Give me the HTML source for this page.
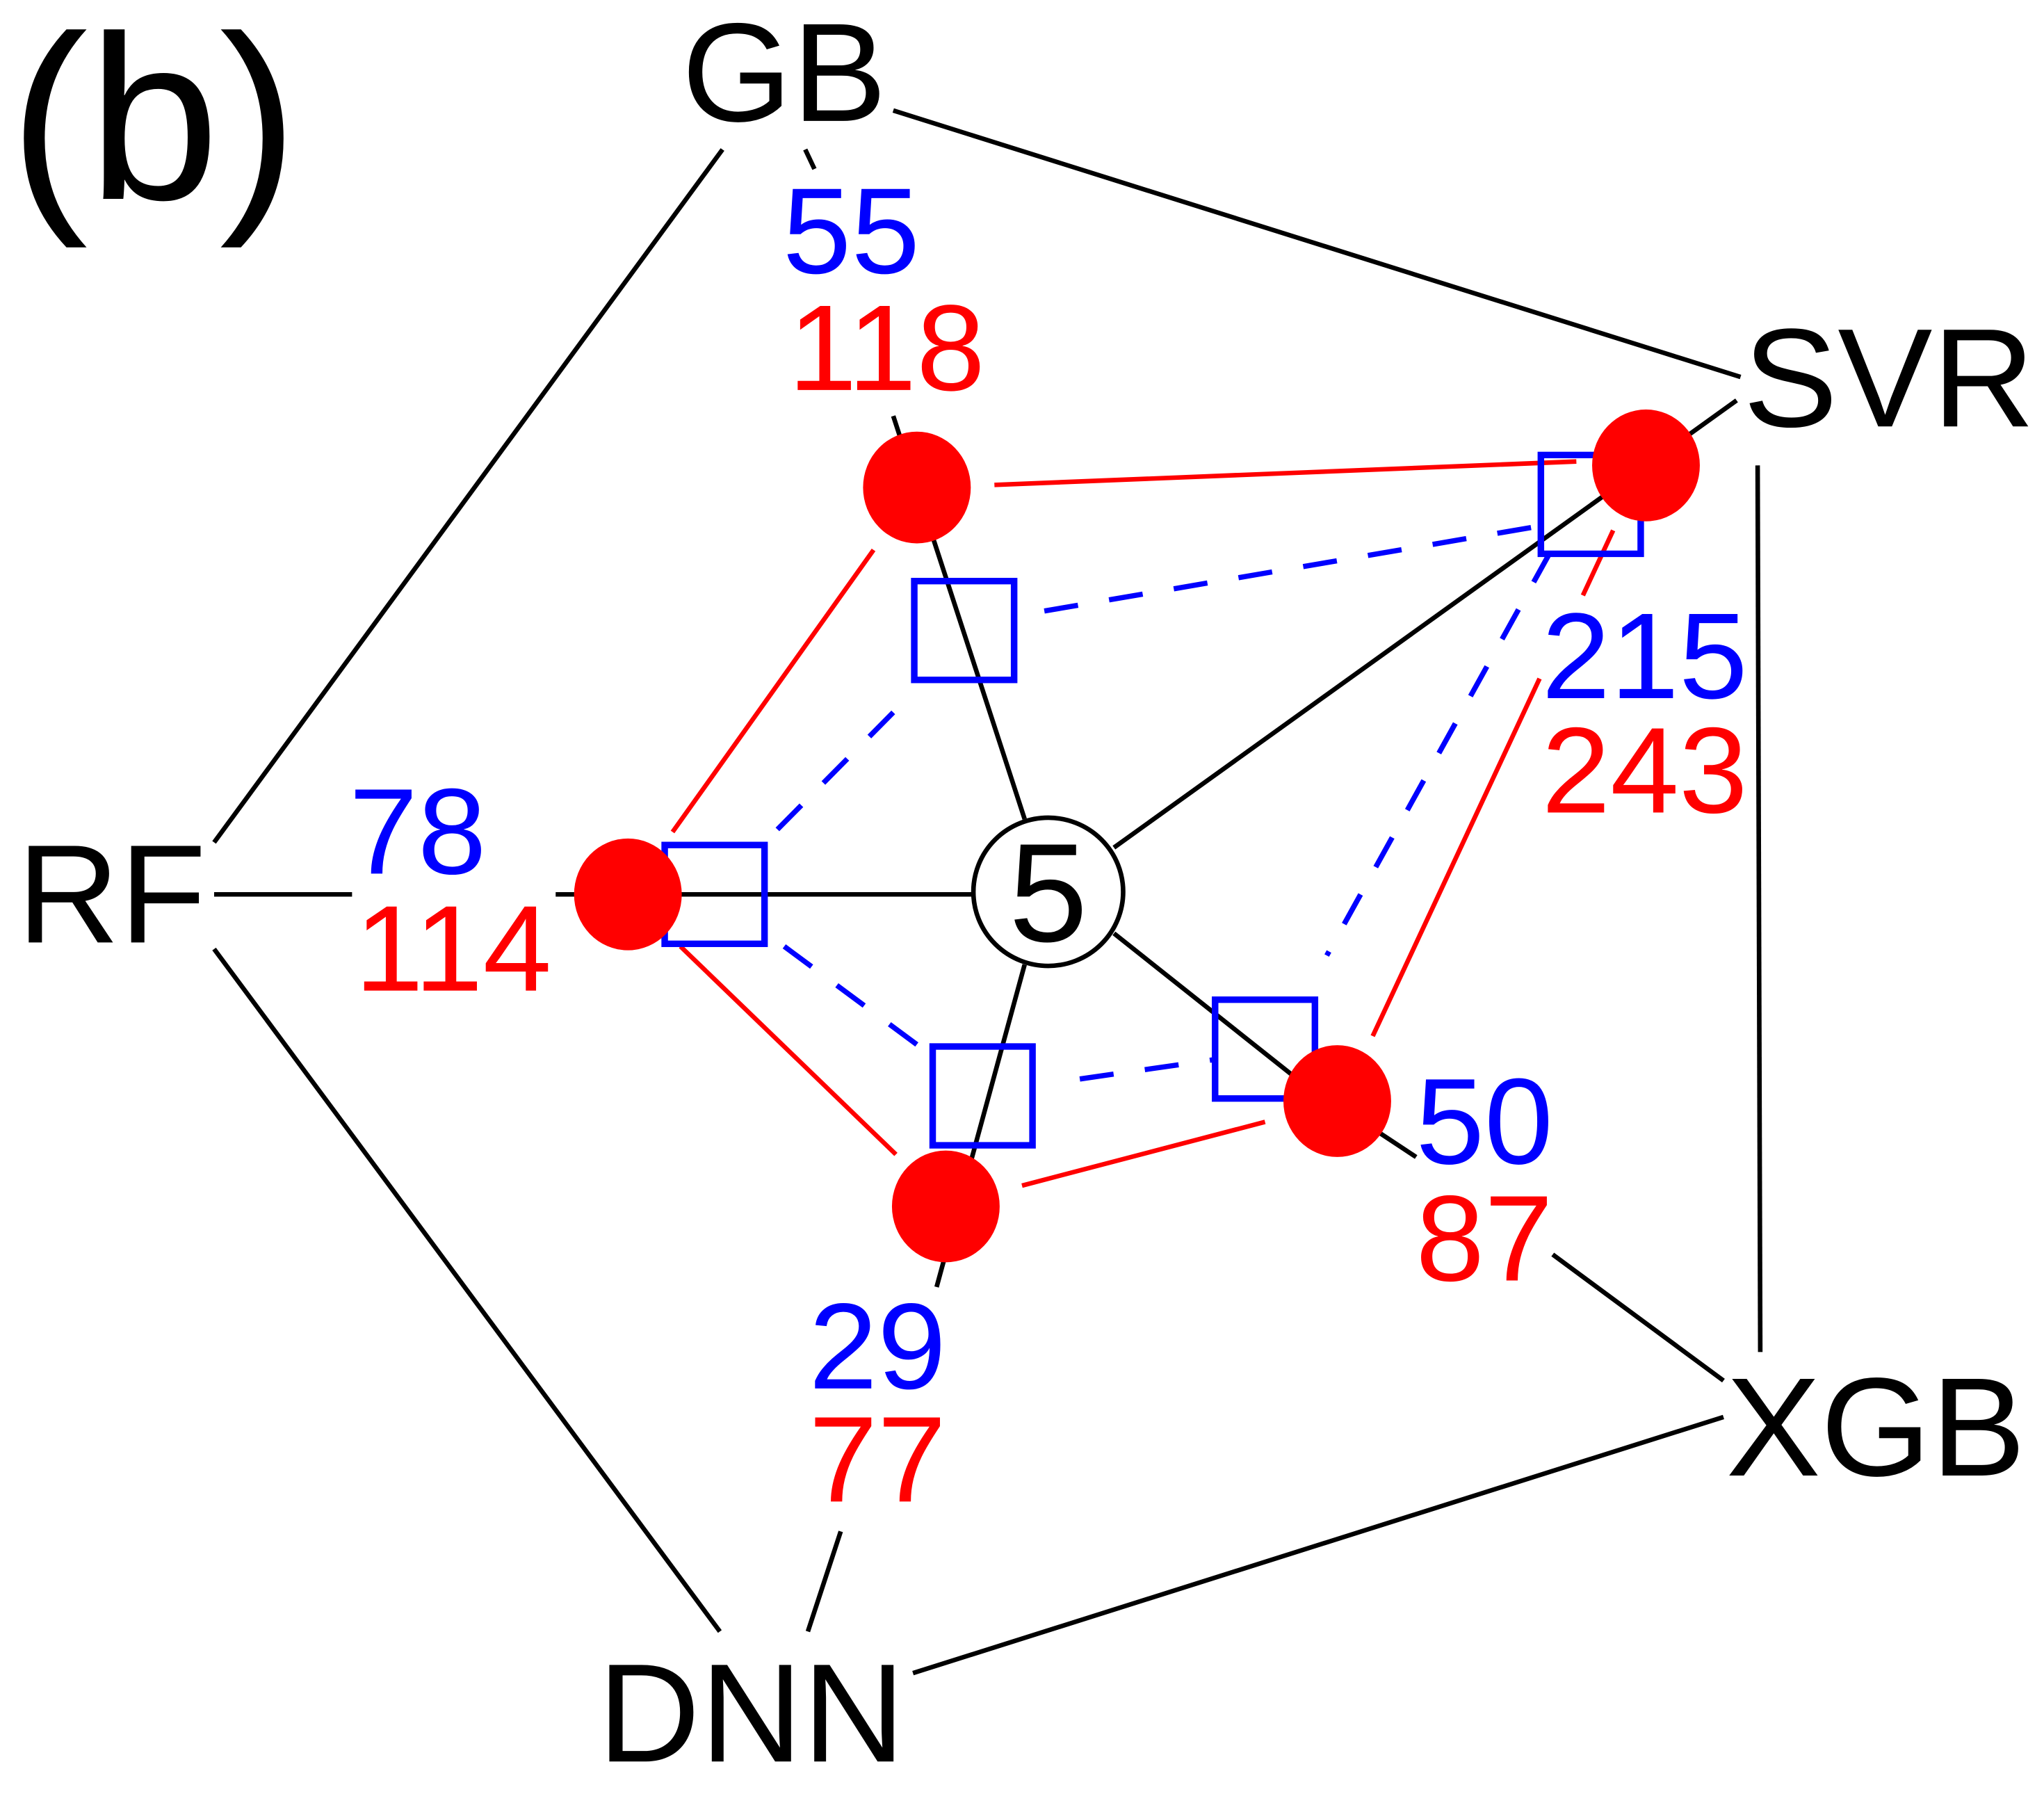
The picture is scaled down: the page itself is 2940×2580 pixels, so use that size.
<!DOCTYPE html>
<html><head><meta charset="utf-8"><style>
html,body{margin:0;padding:0;background:#fff;}
svg{display:block;}
text{font-family:"Liberation Sans",sans-serif;}
</style></head><body>
<svg id="chart" width="2940" height="2580" viewBox="0 0 1556 1380" preserveAspectRatio="none" xmlns="http://www.w3.org/2000/svg">
<text x="117" y="153" font-size="180" text-anchor="middle">(b)</text>
<g id="g"></g>
</svg>
<script>
const models = ["GB","SVR","XGB","DNN","RF"];
const blueValues = [55,215,50,29,78];
const redValues = [118,243,87,77,114];
const centerValue = 5;

const NS="http://www.w3.org/2000/svg";
const g=document.getElementById('g');
function el(tag,attrs,name,text){
  const e=document.createElementNS(NS,tag);
  for(const k in attrs)e.setAttribute(k,attrs[k]);
  
  
  if(text!==undefined)e.textContent=text;
  g.appendChild(e);return e;
}
function line(a,b,color,w,name,dash){
  const at={x1:a[0],y1:a[1],x2:b[0],y2:b[1],stroke:color,'stroke-width':w};
  if(dash)at['stroke-dasharray']=dash;
  return el('line',at,name);
}
const modelPos=[[597,93],[1438,328],[1428,1135],[572,1355],[85,725]];
const redPos=[[698,375],[1253,358],[1018,847],[720,928],[478,688]];
const bluePos=[[734,485],[1211,388],[963,807],[748,843],[544,688]];
const bluePosLbl=[[648,210],[1252,537],[1130,895],[668,1068],[318,672]];
const redPosLbl=[[675,300],[1252,625],[1130,985],[668,1155],[345,762]];
const C=[798,686];
[[[680,85],[1325,290]],[[1338,358],[1340,1040]],[[1312,1090],[695,1287]],[[548,1255],[163,730]],[[163,648],[550,115]]]
 .forEach((s,i)=>line(s[0],s[1],'#000',3.5,'outer-edge-'+i));
[[[613,115],[620,130]],[[680,320],[780,630]],
 [[1322,308],[848,652]],
 [[1312,1062],[1182,965]],[[1078,890],[1048,870]],[[1000,840],[848,718]],
 [[615,1255],[640,1178]],[[713,990],[780,742]],
 [[163,688],[268,688]],[[423,688],[740,688]]]
 .forEach((s,i)=>line(s[0],s[1],'#000',3.5,'spoke-'+i));
[[[757,373],[1200,355]],[[665,423],[512,640]],[[518,728],[682,888]],[[778,912],[963,863]],[[1228,408],[1205,458]],[[1172,522],[1045,797]]]
 .forEach((s,i)=>line(s[0],s[1],'#f00',3.5,'red-edge-'+i));
[[[795,470],[1170,405]],[[680,548],[585,645]],[[597,728],[700,805]],[[822,830],[925,815]],[[1180,425],[1010,735]]]
 .forEach((s,i)=>line(s[0],s[1],'#00f',4,'blue-dashed-edge-'+i,'26,24'));
el('circle',{cx:C[0],cy:C[1],r:57,fill:'#fff',stroke:'#000','stroke-width':3.5},'center-circle');
el('text',{x:C[0],y:C[1]+38,'font-size':108,'text-anchor':'middle',fill:'#000'},'center-value',String(centerValue));
bluePos.forEach((p,i)=>el('rect',{x:p[0]-38,y:p[1]-38,width:76,height:76,fill:'none',stroke:'#00f','stroke-width':5},'blue-square-'+models[i].toLowerCase()));
redPos.forEach((p,i)=>el('ellipse',{cx:p[0],cy:p[1],rx:41,ry:43,fill:'#f00'},'red-dot-'+models[i].toLowerCase()));
models.forEach((m,i)=>{
  el('text',{x:modelPos[i][0],y:modelPos[i][1],'font-size':108,'text-anchor':'middle',fill:'#000'},'model-label-'+m.toLowerCase(),m);
  el('text',{x:bluePosLbl[i][0],y:bluePosLbl[i][1],'font-size':94,'text-anchor':'middle',fill:'#00f'},'blue-value-'+m.toLowerCase(),String(blueValues[i]));
  el('text',{x:redPosLbl[i][0],y:redPosLbl[i][1],'font-size':94,'text-anchor':'middle',fill:'#f00'},'red-value-'+m.toLowerCase(),String(redValues[i]));
});
</script>
</body></html>
